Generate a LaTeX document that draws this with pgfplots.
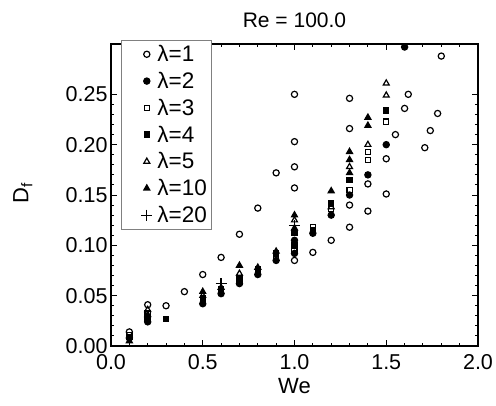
\documentclass[border=0pt]{standalone}
\usepackage{pgfplots}
\pgfplotsset{compat=1.18}
\usepackage{fontspec}
\setmainfont{Liberation Sans}
\begin{document}
\begin{tikzpicture}
\useasboundingbox (-111pt,-59pt) rectangle (385pt,346pt);
\begin{axis}[
  scale only axis,
  width=367pt, height=302pt,
  xmin=0, xmax=2, ymin=0, ymax=0.30,
  xtick={0,0.5,1,1.5,2},
  ytick={0,0.05,0.1,0.15,0.2,0.25},
  minor x tick num=4,
  minor y tick num=4,
  tick align=inside,
  ticks=both,
  xtick pos=both, ytick pos=both,
  major tick length=6pt,
  minor tick length=3pt,
  axis line style={line width=1.1pt},
  every tick/.style={line width=0.9pt, black},
  /pgf/number format/assume math mode=true,
  xticklabel style={yshift=-5pt, /pgf/number format/.cd, fixed, fixed zerofill, precision=1},
  yticklabel style={/pgf/number format/.cd, fixed, fixed zerofill, precision=2},
  tick label style={font=\fontsize{21.5}{24}\selectfont},
  label style={font=\fontsize{22}{26}\selectfont},
  xlabel={We},
  xlabel style={yshift=-2pt},
  ylabel={D\textsubscript{f}},
  ylabel style={at={(axis description cs:-0.24,0.505)}, anchor=center},
  title={Re = 100.0},
  title style={font=\fontsize{21}{24}\selectfont, yshift=7pt},
  legend image code/.code={%
    \path (-23pt,0pt) (8pt,0pt);
    \draw[#1,mark repeat=1,mark phase=1] plot coordinates {(0pt,0pt)};},
  legend style={at={(0.027,1.013)}, anchor=north west, draw=gray, line width=0.6pt,
    font=\fontsize{22.5}{25}\selectfont, row sep=5pt, inner xsep=2pt, inner ysep=3pt,
    cells={anchor=west}},
  legend cell align=left,
  every axis plot/.append style={only marks, black, line width=1.2pt},
]
% lambda = 1
\addplot[mark=o, mark size=3.1pt] coordinates {
(0.1,0.014)(0.2,0.041)(0.3,0.040)(0.4,0.054)(0.5,0.071)(0.6,0.088)(0.7,0.111)
(0.8,0.137)(0.9,0.172)(1.0,0.250)(1.0,0.203)(1.0,0.178)(1.0,0.157)(1.0,0.085)
(1.1,0.093)(1.2,0.105)(1.3,0.246)(1.3,0.216)(1.3,0.140)(1.3,0.118)(1.4,0.161)
(1.4,0.134)(1.5,0.186)(1.5,0.151)(1.55,0.210)(1.60,0.236)(1.62,0.250)(1.71,0.197)
(1.74,0.214)(1.78,0.231)(1.80,0.288)};
\addlegendentry{λ=1}
% lambda = 2
\addplot[mark=*, mark size=3.1pt] coordinates {
(0.1,0.008)(0.2,0.024)(0.5,0.042)(0.6,0.052)(0.7,0.062)(0.8,0.071)(0.9,0.085)
(1.0,0.092)(1.0,0.105)(1.1,0.112)(1.2,0.130)(1.3,0.150)(1.4,0.170)(1.5,0.200)(1.6,0.297)};
\addlegendentry{λ=2}
% lambda = 3
\addplot[mark=square, mark size=2.6pt] coordinates {
(0.1,0.011)(0.2,0.033)(0.5,0.047)(0.6,0.056)(0.7,0.066)(0.8,0.076)(0.9,0.089)
(1.0,0.095)(1.1,0.118)(1.2,0.136)(1.3,0.155)(1.4,0.185)(1.4,0.193)(1.5,0.223)};
\addlegendentry{λ=3}
% lambda = 4
\addplot[mark=square*, mark size=2.6pt] coordinates {
(0.1,0.009)(0.2,0.028)(0.3,0.027)(0.5,0.045)(0.6,0.054)(0.7,0.064)(0.8,0.074)
(0.9,0.092)(1.0,0.100)(1.0,0.112)(1.1,0.115)(1.2,0.142)(1.3,0.165)(1.5,0.234)};
\addlegendentry{λ=4}
% lambda = 5
\addplot[mark=triangle, mark size=3.4pt] coordinates {
(0.2,0.036)(0.5,0.050)(0.7,0.072)(1.0,0.125)(1.2,0.138)(1.3,0.178)(1.4,0.200)
(1.5,0.249)(1.5,0.261)};
\addlegendentry{λ=5}
% lambda = 10
\addplot[mark=triangle*, mark size=3.4pt] coordinates {
(0.1,0.005)(0.2,0.031)(0.5,0.054)(0.6,0.058)(0.7,0.080)(0.8,0.078)(0.9,0.094)
(1.0,0.130)(1.0,0.117)(1.2,0.154)(1.3,0.193)(1.3,0.185)(1.3,0.172)(1.4,0.227)(1.4,0.219)};
\addlegendentry{λ=10}
% lambda = 20
\addplot[mark=+, mark size=5.5pt] coordinates {
(0.6,0.062)(1.0,0.120)};
\addlegendentry{λ=20}
\end{axis}
\end{tikzpicture}
\end{document}
